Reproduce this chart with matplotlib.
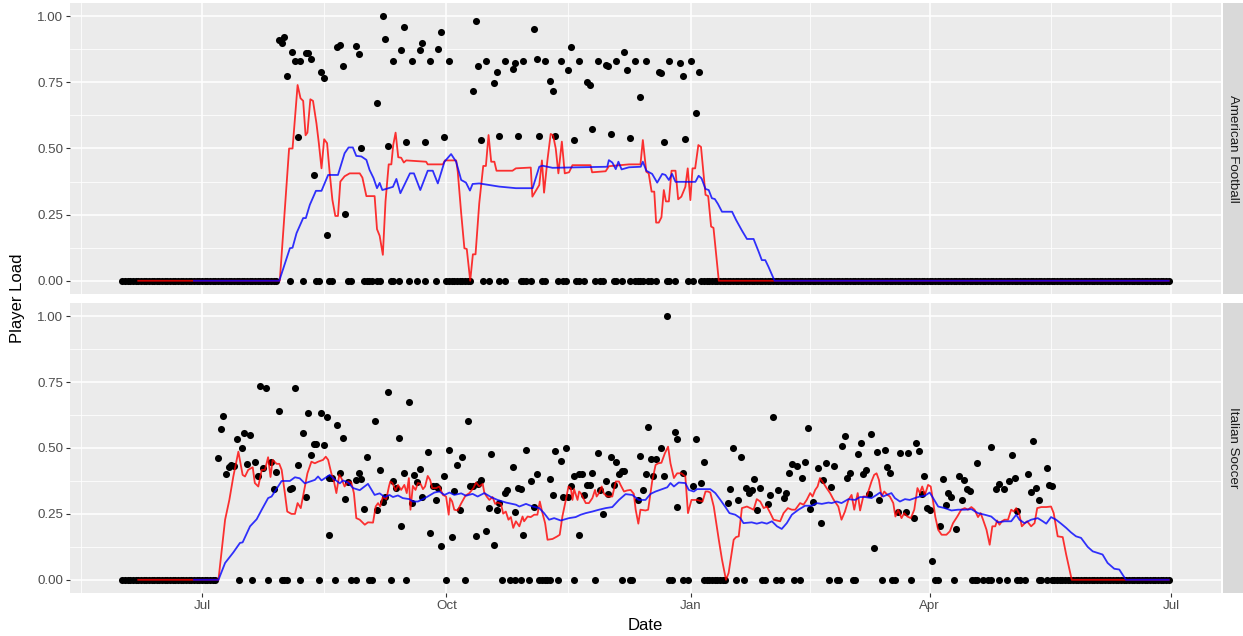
import matplotlib
matplotlib.use('Agg')
import matplotlib.pyplot as plt
import matplotlib.dates as mdates
from matplotlib.ticker import FixedLocator
import numpy as np
import pandas as pd

plt.rcParams['font.family'] = ['Liberation Sans', 'DejaVu Sans']

start = pd.Timestamp('2017-06-01')
last_day = 394

sports = ['American Football', 'Italian Soccer']

# ---- American Football ----
# in-season daily loads: day offset from start, load
af_days = [59, 60, 61, 62, 63, 64, 65, 66, 67, 68, 69, 70, 71, 72, 73, 74, 75, 76, 77, 78,
           79, 81, 82, 83, 84, 85, 86, 88, 89, 90, 91, 92, 93, 94, 96, 96, 97, 98, 99, 100,
           101, 102, 102, 104, 105, 106, 107, 108, 109, 111, 112, 113, 114, 114, 116, 118, 119, 120, 121, 122,
           123, 123, 124, 125, 126, 127, 128, 129, 130, 131, 132, 133, 134, 135, 136, 137, 138, 140, 141, 142,
           142, 144, 144, 147, 148, 149, 150, 151, 151, 152, 154, 155, 156, 157, 158, 159, 159, 161, 162, 163,
           164, 165, 166, 167, 168, 169, 170, 171, 172, 172, 174, 175, 176, 177, 178, 179, 180, 181, 182, 183,
           184, 185, 186, 186, 188, 189, 190, 191, 191, 193, 193, 194, 195, 195, 196, 197, 198, 199, 201, 202,
           203, 204, 205, 206, 206, 208, 210, 211, 212, 213, 214, 215, 216, 217]
af_load = [0.912, 0.897, 0.92, 0.774, 0, 0.865, 0.83, 0.545, 0.83, 0, 0.862, 0.86, 0.84, 0.40, 0, 0, 0.79, 0.765, 0.172, 0,
           0, 0.885, 0.89, 0.81, 0.254, 0, 0, 0.887, 0.858, 0.50, 0, 0, 0, 0, 0.673, 0, 0, 1.0, 0.913, 0.51,
           0, 0.831, 0, 0, 0.872, 0.96, 0.523, 0, 0.831, 0, 0.872, 0.897, 0.523, 0, 0.831, 0, 0.878, 0.941, 0.542, 0,
           0.831, 0, 0, 0, 0, 0, 0, 0, 0, 0, 0.717, 0.982, 0.812, 0.532, 0, 0.831, 0, 0.748, 0.79, 0.547,
           0, 0.831, 0, 0.80, 0.824, 0.548, 0, 0.831, 0, 0, 0, 0.95, 0.838, 0.548, 0, 0.831, 0, 0.755, 0.718, 0.547,
           0, 0.831, 0, 0, 0.796, 0.882, 0.532, 0, 0.831, 0, 0, 0.752, 0.74, 0.572, 0, 0.831, 0, 0, 0.815, 0.812,
           0.553, 0, 0.831, 0, 0, 0.865, 0.796, 0.541, 0, 0.831, 0, 0, 0.696, 0, 0, 0.831, 0, 0, 0, 0.79,
           0.784, 0.523, 0, 0.831, 0, 0, 0.825, 0.774, 0.535, 0, 0.831, 0, 0.635, 0.79]
# off-season stretches where every day is 0
af_rest = [(0, 58), (218, last_day)]

# 7-day (acute) and 28-day (chronic) load lines, vertices
af_acute_days = [6, 59.3, 62.8, 64.1, 66, 67.1, 68.1, 69, 69.7, 70.8, 71.8, 73.1, 74, 75, 76, 77.1, 78.1, 79.1, 80.2, 81.2,
                 82.1, 83.7, 85.6, 89.4, 90.4, 91.9, 95, 95.9, 96.9, 98.1, 99.1, 100.3, 101.3, 102, 102.9, 103.9, 105, 106, 106.9, 114.4,
                 115, 120.7, 121.5, 125.7, 126.3, 127.6, 128.8, 129.7, 131, 132, 133, 134.4, 135.9, 136.9, 137.9, 138.9, 140.1, 140.9, 146.9, 148.2,
                 153.8, 154.4, 155.7, 157, 158, 158.8, 160.1, 161.3, 162.2, 163.2, 164.2, 165.5, 166.6, 168.2, 169.5, 176.3, 176.9, 182, 183.2, 190.8,
                 195.1, 196, 197.3, 198.2, 199.3, 200.3, 201, 202, 203, 203.9, 204.7, 205.8, 206.8, 208.3, 209.3, 210.5, 212, 212.9, 213.9, 214.7,
                 215.7, 216.9, 217.9, 218.6, 219.6, 220.6, 221.7, 222.6, 224.6, last_day]
af_acute = [0, 0, 0.50, 0.50, 0.74, 0.69, 0.68, 0.55, 0.56, 0.686, 0.68, 0.595, 0.52, 0.425, 0.535, 0.52, 0.406, 0.306, 0.245, 0.245,
            0.375, 0.395, 0.406, 0.406, 0.39, 0.32, 0.32, 0.195, 0.17, 0.098, 0.30, 0.44, 0.44, 0.513, 0.56, 0.467, 0.465, 0.447, 0.455, 0.45,
            0.44, 0.44, 0.455, 0.455, 0.413, 0.255, 0.123, 0.12, 0.0, 0.10, 0.10, 0.293, 0.434, 0.434, 0.551, 0.45, 0.45, 0.416, 0.416, 0.425,
            0.428, 0.318, 0.34, 0.362, 0.455, 0.333, 0.458, 0.555, 0.55, 0.5, 0.406, 0.526, 0.406, 0.41, 0.437, 0.437, 0.41, 0.414, 0.433, 0.44,
            0.44, 0.532, 0.412, 0.406, 0.337, 0.337, 0.22, 0.22, 0.24, 0.343, 0.30, 0.30, 0.416, 0.416, 0.308, 0.318, 0.355, 0.425, 0.305, 0.425,
            0.425, 0.513, 0.506, 0.431, 0.325, 0.32, 0.205, 0.2, 0, 0]
af_chronic_days = [27, 59.1, 63.1, 64.1, 65.6, 68.1, 69.1, 70.6, 72.9, 75, 77.5, 81.2, 83.7, 85.2, 86.8, 88.1, 90, 91.9, 93.1, 94.6,
                   95.9, 96.9, 97.9, 101.9, 103.2, 104.7, 108.3, 109.8, 112.2, 115, 116.9, 118.8, 121.3, 123.8, 125.7, 127.6, 129.4, 130.9, 131.9, 134.4,
                   141.9, 148.2, 154.5, 157, 158.2, 162, 182.6, 183.2, 184.5, 185.8, 186.8, 188, 190.8, 195.2, 196, 197.3, 199.5, 201.4, 203.3, 204.5,
                   205.8, 207, 208.3, 215.8, 217, 218.1, 219.6, 220.8, 222, 223.1, 224.3, 225.8, 229.6, 231.1, 233.3, 235.2, 237.7, 239.6, 240.8, 242.1,
                   243.3, 245.6, last_day]
af_chronic = [0, 0, 0.123, 0.125, 0.18, 0.237, 0.237, 0.287, 0.34, 0.34, 0.40, 0.40, 0.482, 0.504, 0.504, 0.472, 0.47, 0.457, 0.419, 0.388,
              0.35, 0.37, 0.343, 0.355, 0.385, 0.331, 0.406, 0.406, 0.343, 0.416, 0.416, 0.368, 0.45, 0.479, 0.45, 0.381, 0.371, 0.341, 0.366, 0.368,
              0.356, 0.35, 0.35, 0.431, 0.435, 0.427, 0.431, 0.456, 0.447, 0.422, 0.45, 0.421, 0.429, 0.431, 0.45, 0.416, 0.404, 0.371, 0.404, 0.4,
              0.381, 0.404, 0.374, 0.374, 0.397, 0.387, 0.347, 0.343, 0.312, 0.309, 0.29, 0.261, 0.261, 0.23, 0.19, 0.158, 0.158, 0.11, 0.078, 0.078,
              0.053, 0, 0]

# ---- Italian Soccer ----
is_days = [36, 37, 38, 39, 40, 41, 42, 43, 44, 45, 46, 47, 48, 49, 50, 51, 52, 53, 54, 55,
           56, 57, 58, 59, 60, 61, 62, 63, 64, 65, 66, 67, 68, 69, 70, 71, 72, 73, 74, 75,
           76, 77, 78, 78, 79, 80, 81, 82, 83, 84, 85, 86, 88, 88, 89, 90, 91, 92, 93, 94,
           95, 96, 97, 98, 99, 100, 101, 102, 103, 104, 105, 106, 107, 108, 109, 110, 111, 112, 113, 115,
           116, 117, 118, 118, 119, 120, 121, 122, 123, 124, 125, 126, 127, 128, 129, 130, 131, 132, 133, 134,
           135, 137, 138, 139, 140, 141, 142, 143, 144, 145, 146, 147, 148, 148, 149, 150, 150, 151, 152, 153,
           154, 155, 156, 157, 158, 159, 160, 161, 161, 162, 163, 164, 165, 166, 167, 168, 169, 170, 170, 172,
           172, 173, 174, 175, 176, 177, 178, 179, 180, 181, 182, 183, 184, 185, 186, 187, 188, 188, 189, 191,
           192, 194, 195, 196, 197, 198, 199, 200, 201, 203, 204, 205, 206, 207, 208, 209, 209, 211, 211, 213,
           215, 216, 217, 218, 219, 219, 220, 221, 222, 223, 224, 225, 226, 227, 228, 229, 230, 231, 232, 233,
           234, 235, 236, 237, 238, 239, 240, 241, 242, 243, 244, 245, 246, 247, 248, 249, 250, 251, 252, 253,
           254, 255, 256, 257, 258, 259, 260, 262, 263, 264, 265, 266, 267, 268, 269, 270, 271, 272, 273, 274,
           275, 276, 277, 278, 279, 280, 281, 282, 283, 284, 285, 286, 287, 288, 289, 290, 291, 292, 293, 295,
           296, 297, 298, 299, 300, 301, 302, 303, 304, 305, 306, 307, 308, 309, 310, 311, 312, 313, 314, 315,
           316, 317, 318, 319, 320, 321, 322, 322, 324, 326, 327, 327, 329, 330, 330, 332, 333, 334, 335, 336,
           337, 337, 338, 340, 341, 342, 343, 344, 345, 345, 346, 348, 348, 349, 350]
is_load = [0.461, 0.571, 0.622, 0.40, 0.427, 0.435, 0.433, 0.533, 0, 0.501, 0.555, 0.438, 0.549, 0, 0.448, 0.394, 0.734, 0.423, 0.729, 0,
           0.448, 0.345, 0.41, 0.641, 0, 0, 0, 0.344, 0.35, 0.729, 0.435, 0, 0.555, 0.316, 0.631, 0.474, 0.515, 0.515, 0, 0.631,
           0.512, 0.616, 0.385, 0.171, 0.385, 0, 0.587, 0.407, 0.539, 0.307, 0.37, 0, 0.379, 0, 0.404, 0.382, 0.269, 0.465, 0, 0,
           0.602, 0.266, 0.417, 0.297, 0.314, 0.713, 0, 0.373, 0.348, 0.537, 0.205, 0.404, 0, 0.675, 0.293, 0.398, 0.37, 0.421, 0.316, 0.486,
           0.178, 0.356, 0.301, 0.355, 0.35, 0.127, 0.394, 0, 0.492, 0.161, 0.335, 0.436, 0.263, 0.467, 0, 0.602, 0.356, 0.356, 0.167, 0.364,
           0.379, 0.187, 0.274, 0.476, 0.131, 0.266, 0.293, 0, 0.331, 0.341, 0, 0.427, 0.257, 0, 0.348, 0.345, 0, 0.171, 0.492, 0,
           0.373, 0.276, 0.402, 0, 0, 0, 0, 0.382, 0, 0.322, 0.489, 0, 0.451, 0.316, 0.499, 0.316, 0.356, 0.394, 0, 0.40,
           0.171, 0.40, 0.322, 0.36, 0.36, 0.407, 0, 0.482, 0.339, 0.249, 0.373, 0.326, 0.465, 0.36, 0.448, 0.402, 0.414, 0, 0.414, 0,
           0, 0.303, 0.471, 0.339, 0.402, 0.58, 0.458, 0.392, 0.458, 0.499, 0.394, 1.0, 0, 0, 0.559, 0.536, 0.278, 0.404, 0, 0,
           0.354, 0.536, 0.303, 0.369, 0.446, 0, 0, 0, 0, 0, 0, 0, 0, 0, 0.291, 0.344, 0.501, 0, 0.301, 0.467,
           0, 0.348, 0.331, 0.339, 0.382, 0.266, 0.348, 0, 0, 0.287, 0.32, 0.618, 0, 0.341, 0, 0.31, 0.329, 0.404, 0.44, 0,
           0.432, 0, 0.385, 0.448, 0.574, 0.269, 0.297, 0.423, 0.215, 0.379, 0.444, 0, 0.351, 0.432, 0, 0, 0.508, 0.545, 0.385, 0.404,
           0, 0, 0.477, 0.52, 0.40, 0.417, 0.326, 0.552, 0.121, 0.484, 0.303, 0, 0.492, 0.427, 0.407, 0, 0, 0.259, 0.48, 0.259,
           0.48, 0, 0.234, 0.518, 0.49, 0.325, 0.395, 0.272, 0.263, 0.073, 0, 0, 0.206, 0.382, 0.285, 0.331, 0.314, 0, 0.193, 0.392,
           0.303, 0.379, 0.344, 0.335, 0, 0, 0.444, 0, 0, 0, 0.503, 0, 0.345, 0.364, 0, 0.345, 0, 0.373, 0.474, 0.385,
           0.262, 0, 0, 0, 0.402, 0.333, 0.528, 0.35, 0.301, 0, 0, 0.423, 0, 0.36, 0.355]
is_rest = [(0, 35), (350, last_day)]

is_acute_days = [6, 36.2, 38.7, 40.3, 41.8, 43.7, 45.3, 46.2, 47.4, 49.1, 49.9, 51.2, 52.5, 53.7, 54.9, 55.8, 56.6, 58.1, 59.1, 60,
                 61.2, 62.1, 63.7, 65, 66, 67.2, 68.5, 69.7, 71.2, 72.5, 73.7, 75.6, 76.6, 77.5, 78.7, 79.7, 80.6, 81.7, 82.5, 83.7,
                 85, 86.2, 87.2, 88.1, 89.4, 91.3, 92.5, 94.4, 95.4, 96.3, 97.1, 98.1, 99.4, 100.4, 100.9, 101.7, 102.9, 103.8, 105, 106.2,
                 107.1, 107.9, 108.5, 109.4, 110.4, 111.3, 112.3, 113.2, 114, 115, 115.9, 116.7, 118.2, 119.4, 120.7, 121.9, 122.9, 123.4, 124.2, 125,
                 126.3, 127.5, 129.2, 130.7, 132.2, 133.2, 134.4, 135.7, 136.3, 137.2, 138.2, 139.4, 140.4, 141.3, 142.6, 143.4, 144.4, 145.4, 146.3, 147.2,
                 148.2, 149.5, 150.7, 151.3, 152.6, 153.8, 155.1, 156.3, 157.2, 158.2, 159.2, 160.1, 162, 163.8, 164.7, 165.7, 167, 168, 168.9, 169.5,
                 170.1, 171.4, 172, 172.6, 173.9, 174.5, 175.7, 177, 178, 178.6, 179.5, 180.5, 181.4, 182.6, 184.5, 185.8, 187, 187.6, 188.9, 190.1,
                 191.4, 192.6, 193.3, 194.3, 195.1, 197, 198, 199.5, 200.8, 201.8, 203, 204.3, 205.5, 206.4, 207.7, 208.9, 210.5, 212, 213, 214.3,
                 216.4, 218.5, 219.6, 220.5, 221.4, 222.7, 224.6, 225.8, 227.3, 228.3, 230.2, 231.1, 232.1, 233.3, 235.2, 237.7, 238.9, 240.2, 241.5, 242.7,
                 244, 245.2, 246.5, 247.7, 249, 250.6, 252.1, 253.4, 255.2, 256.5, 257.7, 259, 259.9, 260.9, 261.8, 262.7, 264, 265.2, 266.5, 267.7,
                 269.6, 270.8, 272.1, 273.4, 274.6, 275.6, 276.9, 277.8, 279, 280.3, 282.1, 283.1, 284, 284.9, 285.9, 286.9, 288.1, 289, 290.3, 291.1,
                 292.1, 293.4, 294.4, 295.6, 296.9, 298.2, 299.4, 300.3, 301.2, 302.2, 303.4, 304.4, 305.3, 306.1, 307.2, 308.5, 310.3, 311.6, 312.8, 314.4,
                 315.9, 317.2, 318.4, 319.7, 320.9, 322.2, 323.2, 324.1, 325.4, 326.6, 327.6, 328.7, 329.4, 330.3, 331.2, 332.2, 333.5, 334.7, 335.7, 336.6,
                 337.8, 338.7, 339.7, 340.7, 342.2, 343.5, 344.5, 346, 347.9, 349.7, 350.7, 352.2, 354.1, 355.4, 357.5, last_day]
is_acute = [0, 0, 0.228, 0.303, 0.392, 0.486, 0.398, 0.392, 0.417, 0.427, 0.367, 0.354, 0.417, 0.417, 0.465, 0.39, 0.455, 0.44, 0.44, 0.417,
            0.329, 0.259, 0.25, 0.25, 0.291, 0.272, 0.341, 0.404, 0.448, 0.442, 0.448, 0.455, 0.467, 0.455, 0.404, 0.373, 0.329, 0.398, 0.385, 0.354,
            0.373, 0.37, 0.329, 0.234, 0.228, 0.209, 0.218, 0.217, 0.278, 0.291, 0.278, 0.314, 0.306, 0.354, 0.373, 0.367, 0.339, 0.36, 0.341, 0.36,
            0.329, 0.386, 0.266, 0.356, 0.341, 0.367, 0.364, 0.344, 0.354, 0.394, 0.379, 0.348, 0.348, 0.354, 0.322, 0.316, 0.247, 0.31, 0.297, 0.266,
            0.263, 0.288, 0.319, 0.329, 0.348, 0.369, 0.354, 0.364, 0.331, 0.316, 0.303, 0.314, 0.288, 0.293, 0.288, 0.251, 0.259, 0.228, 0.238, 0.197,
            0.222, 0.203, 0.24, 0.222, 0.24, 0.238, 0.247, 0.247, 0.297, 0.253, 0.215, 0.152, 0.155, 0.165, 0.171, 0.24, 0.303, 0.354, 0.347, 0.303,
            0.344, 0.303, 0.335, 0.329, 0.303, 0.291, 0.291, 0.31, 0.341, 0.316, 0.329, 0.354, 0.326, 0.316, 0.316, 0.373, 0.373, 0.36, 0.335, 0.339,
            0.341, 0.326, 0.266, 0.213, 0.266, 0.263, 0.266, 0.373, 0.436, 0.442, 0.444, 0.48, 0.505, 0.442, 0.386, 0.404, 0.404, 0.392, 0.253, 0.303,
            0.303, 0.297, 0.335, 0.335, 0.331, 0.278, 0.152, 0.077, 0, 0.026, 0.152, 0.162, 0.165, 0.272, 0.278, 0.266, 0.306, 0.297, 0.272, 0.278,
            0.253, 0.228, 0.225, 0.222, 0.253, 0.272, 0.266, 0.266, 0.291, 0.285, 0.303, 0.329, 0.316, 0.341, 0.354, 0.386, 0.367, 0.348, 0.329, 0.306,
            0.278, 0.228, 0.259, 0.303, 0.322, 0.266, 0.329, 0.263, 0.316, 0.316, 0.373, 0.398, 0.404, 0.379, 0.316, 0.335, 0.322, 0.316, 0.291, 0.24,
            0.266, 0.234, 0.253, 0.24, 0.234, 0.266, 0.348, 0.329, 0.354, 0.322, 0.36, 0.354, 0.297, 0.24, 0.19, 0.171, 0.171, 0.184, 0.215, 0.24,
            0.266, 0.272, 0.266, 0.276, 0.266, 0.238, 0.253, 0.228, 0.19, 0.133, 0.203, 0.203, 0.225, 0.209, 0.222, 0.228, 0.228, 0.266, 0.259, 0.272,
            0.247, 0.203, 0.213, 0.222, 0.203, 0.215, 0.272, 0.276, 0.276, 0.278, 0.253, 0.165, 0.162, 0.096, 0, 0]
is_chronic_days = [27, 36.2, 38.7, 41.8, 44.3, 45.3, 48.1, 50.6, 52.5, 54.9, 56.2, 60, 63.1, 65, 66.8, 68.7, 72.5, 73.7, 75, 78.1,
                   79.4, 81.9, 83.1, 85, 86.9, 89.4, 92.5, 95, 96.9, 98.8, 100.6, 101.9, 103.8, 105.6, 108.1, 109.4, 111.3, 113.2, 115, 117.5,
                   119.4, 121.3, 123.2, 125, 127.6, 129.4, 131.9, 133.8, 136.3, 138.8, 141.3, 144.5, 148.2, 149.5, 152, 154.5, 157, 158.8, 160.7, 162.6,
                   165.1, 168.2, 170.7, 172.6, 174.5, 177, 179.5, 182, 184.5, 187, 189.5, 192, 194.5, 197, 198.9, 200.8, 203.3, 205.2, 206.4, 207.7,
                   209.5, 212, 213.3, 215.2, 216.4, 221.4, 223.3, 225.2, 227.1, 228.6, 230.8, 232.7, 233.9, 237, 238.9, 240.8, 242.7, 244.6, 246.5, 248.3,
                   250.2, 252.1, 254.6, 257.1, 259.6, 261.5, 263.4, 265.9, 267.1, 269, 270.8, 273.4, 275.9, 277.8, 279.7, 282.1, 284, 285.3, 286.5, 287.8,
                   289.6, 290.9, 292.8, 294.7, 296.5, 298.4, 300.3, 302.2, 304, 305.3, 307.2, 309.7, 312.2, 314.7, 317.2, 319.7, 322.2, 324.7, 327.2, 329.7,
                   332.2, 334.7, 336.6, 337.8, 339.7, 342.2, 344.7, 346.6, 347.9, 349.7, 351.6, 353.5, 355.4, 357.2, 359.1, 361, 363.5, 365.4, 367.3, 369.1,
                   371, 373.5, 375.4, 377.9, last_day]
is_chronic = [0, 0, 0.064, 0.104, 0.14, 0.142, 0.203, 0.23, 0.266, 0.31, 0.316, 0.375, 0.375, 0.389, 0.385, 0.366, 0.379, 0.392, 0.377, 0.398,
              0.385, 0.366, 0.377, 0.369, 0.348, 0.34, 0.364, 0.322, 0.328, 0.314, 0.322, 0.314, 0.32, 0.31, 0.306, 0.297, 0.297, 0.306, 0.316, 0.331,
              0.335, 0.322, 0.331, 0.322, 0.328, 0.319, 0.326, 0.316, 0.329, 0.314, 0.303, 0.293, 0.285, 0.278, 0.288, 0.278, 0.272, 0.253, 0.228, 0.234,
              0.225, 0.234, 0.238, 0.247, 0.253, 0.259, 0.266, 0.272, 0.276, 0.303, 0.325, 0.322, 0.303, 0.303, 0.326, 0.335, 0.344, 0.351, 0.367, 0.354,
              0.369, 0.367, 0.341, 0.335, 0.344, 0.344, 0.329, 0.303, 0.276, 0.253, 0.247, 0.234, 0.215, 0.218, 0.213, 0.218, 0.213, 0.222, 0.203, 0.193,
              0.215, 0.247, 0.266, 0.281, 0.281, 0.291, 0.288, 0.293, 0.291, 0.297, 0.291, 0.306, 0.303, 0.314, 0.314, 0.31, 0.322, 0.331, 0.316, 0.322,
              0.329, 0.31, 0.297, 0.306, 0.303, 0.31, 0.316, 0.319, 0.331, 0.31, 0.278, 0.272, 0.263, 0.266, 0.266, 0.268, 0.253, 0.247, 0.24, 0.218,
              0.222, 0.222, 0.247, 0.228, 0.215, 0.228, 0.234, 0.222, 0.213, 0.238, 0.228, 0.213, 0.197, 0.18, 0.165, 0.159, 0.125, 0.108, 0.102, 0.096,
              0.064, 0.042, 0.039, 0, 0]

panels = [
    (af_days, af_load, af_rest, af_acute_days, af_acute, af_chronic_days, af_chronic),
    (is_days, is_load, is_rest, is_acute_days, is_acute, is_chronic_days, is_chronic),
]


def to_dates(days):
    return start + pd.to_timedelta(np.asarray(days, dtype=float), unit='D')


W, H = 1243, 636
fig = plt.figure(figsize=(W / 100, H / 100), dpi=100)

panel_left, panel_right = 70, 1221
panel_rows = [(3, 294), (303, 593)]

quarters = pd.to_datetime(['2017-04-01', '2017-07-01', '2017-10-01', '2018-01-01',
                           '2018-04-01', '2018-07-01', '2018-10-01'])
qnum = mdates.date2num(quarters)
minor_x = (qnum[:-1] + qnum[1:]) / 2

pad = 19.7
xmin = mdates.date2num(start - pd.Timedelta(days=pad))
xmax = mdates.date2num(start + pd.Timedelta(days=last_day + pad))

tick_col = '#4D4D4D'

for i, (name, (days, load, rest, a_days, acute, c_days, chronic)) in enumerate(zip(sports, panels)):
    top, bottom = panel_rows[i]
    ax = fig.add_axes([panel_left / W, 1 - bottom / H, (panel_right - panel_left) / W, (bottom - top) / H])
    ax.set_facecolor('#EBEBEB')
    for s in ax.spines.values():
        s.set_visible(False)

    # off-season daily zeros
    for r0, r1 in rest:
        rd = np.arange(r0, r1 + 1)
        ax.scatter(to_dates(rd), np.zeros(len(rd)), s=26, color='black', linewidths=0, zorder=2)
    ax.scatter(to_dates(days), load, s=26, color='black', linewidths=0, zorder=2)

    ax.plot(to_dates(a_days), acute, color='red', lw=1.3, alpha=0.8, zorder=3)
    ax.plot(to_dates(c_days), chronic, color='blue', lw=1.3, alpha=0.8, zorder=4)

    ax.set_xlim(xmin, xmax)
    ax.set_ylim(-0.05, 1.05)
    ax.set_yticks([0, 0.25, 0.5, 0.75, 1.0])
    ax.set_yticklabels(['0.00', '0.25', '0.50', '0.75', '1.00'])
    ax.yaxis.set_minor_locator(FixedLocator([0.125, 0.375, 0.625, 0.875]))
    ax.xaxis.set_major_locator(mdates.MonthLocator(bymonth=[1, 4, 7, 10]))
    ax.xaxis.set_major_formatter(mdates.DateFormatter('%b'))
    ax.xaxis.set_minor_locator(FixedLocator(minor_x))

    ax.grid(True, which='major', color='white', lw=1.1)
    ax.grid(True, which='minor', color='white', lw=0.55)
    ax.set_axisbelow(True)

    ax.tick_params(axis='both', which='major', length=2.6, width=0.8, color='#333333',
                   labelcolor=tick_col, labelsize=9.6, pad=2.2)
    ax.tick_params(axis='both', which='minor', length=0)
    if i == 0:
        ax.tick_params(axis='x', which='major', length=0, labelbottom=False)

    # facet strip on the right
    sx = fig.add_axes([1223 / W, 1 - bottom / H, (W - 1223) / W, (bottom - top) / H])
    sx.set_facecolor('#D9D9D9')
    sx.set_xticks([])
    sx.set_yticks([])
    for s in sx.spines.values():
        s.set_visible(False)
    sx.text(0.5, 0.5, name, rotation=270, ha='center', va='center', fontsize=9.6,
            color='#1A1A1A', transform=sx.transAxes)

fig.text(18 / W, 1 - 298 / H, 'Player Load', rotation=90, ha='center', va='center', fontsize=12, color='black')
fig.text((panel_left + panel_right) / 2 / W, 1 - 626 / H, 'Date', ha='center', va='center', fontsize=12, color='black')

fig.savefig('out.png', dpi=100)
